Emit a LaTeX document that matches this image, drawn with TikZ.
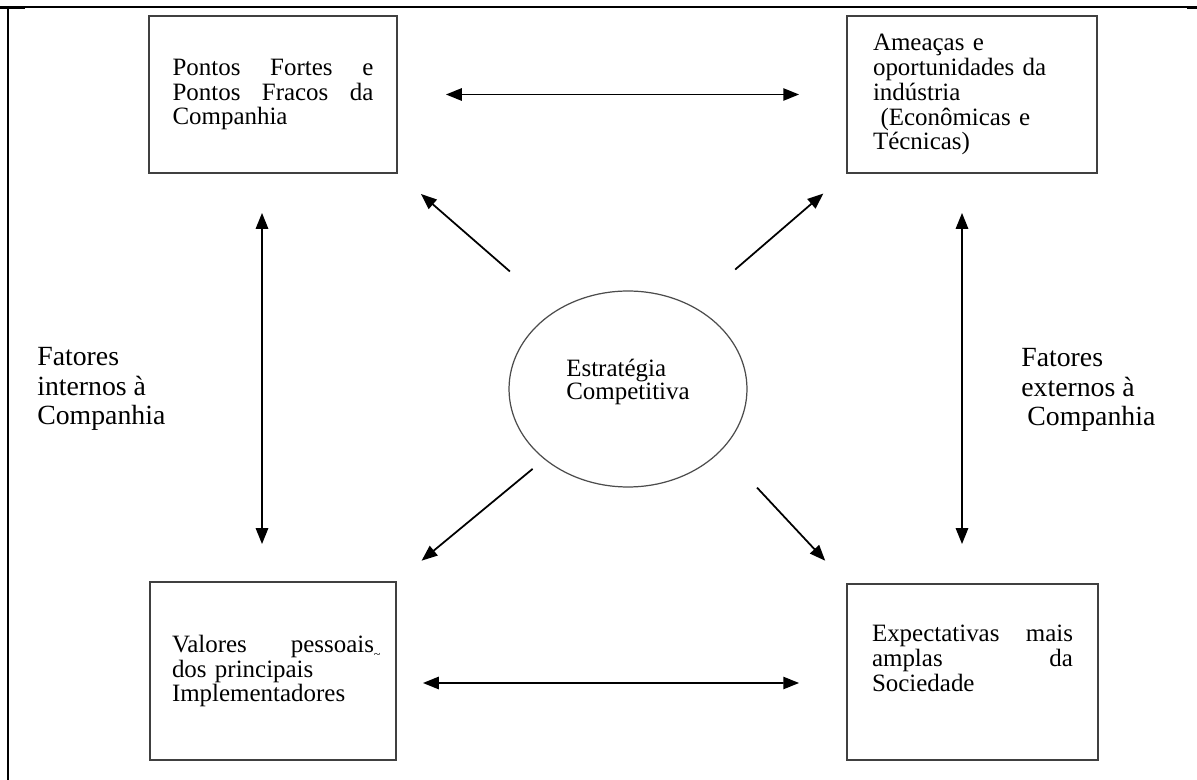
\documentclass[tikz,border=0pt]{standalone}
\usepackage{fontspec}
\setmainfont{Liberation Serif}
\usetikzlibrary{arrows.meta,shapes.geometric}

\begin{document}
\begin{tikzpicture}[x = 0.02cm, y = -0.02cm,
  caixa/.style = {draw = black!75, line width = 1.1pt, inner sep = 0pt, align = left,
    font = {\fontsize{14.2pt}{14.2pt}\selectfont}},
  fator/.style = {anchor = west, align = left, inner sep = 0pt,
    font = {\fontsize{15.8pt}{16.8pt}\selectfont}},
  seta/.style = {line width = 1pt, arrows = {-Triangle[length=9pt, width=7pt]}},
  setadupla/.style = {line width = 1pt,
    arrows = {Triangle[length=9pt, width=7pt]-Triangle[length=9pt, width=7pt]}}]

\useasboundingbox (0,0) rectangle (1197,780);
\draw[line width = 1.2pt] (8,7) -- (1197,7);
\draw[line width = 1.2pt] (8,7) -- (8,780);
\draw[line width = 2.2pt] (0,7.5) -- (25,7.5);
\draw[line width = 2.2pt] (1187,7.5) -- (1197,7.5);

\node[caixa, minimum width = 4.96cm, minimum height = 3.14cm, text width = 4.02cm] (pf) at (273,94.5)
  {Pontos\hfill Fortes\hfill e\\Pontos\hfill Fracos\hfill da\\Companhia};

\node[caixa, minimum width = 5cm, minimum height = 3.14cm, text width = 3.96cm] (am) at (972,94.5)
  {Ameaças e\\oportunidades da\\indústria\\\hspace*{0.3em}(Econômicas e\\Técnicas)};

\node[caixa, minimum width = 4.92cm, minimum height = 3.56cm, text width = 4.04cm] (vp) at (273,671)
  {Valores\hfill pessoais\rlap{\raisebox{-0.12cm}{\fontsize{7pt}{7pt}\selectfont\textasciitilde}}\\dos principais\\Implementadores};

\node[caixa, minimum width = 5.02cm, minimum height = 3.52cm, text width = 4.02cm] (ex) at (972.5,672)
  {Expectativas\hfill mais\\amplas\hfill da\\Sociedade\\[0.06cm]\mbox{}};

\node[ellipse, draw = black!70, line width = 0.7pt, minimum width = 4.76cm, minimum height = 3.92cm,
  inner sep = 0pt, align = left, font = {\fontsize{14.2pt}{13pt}\selectfont}] (est) at (628,389)
  {Estratégia\\Competitiva\\[-0.06cm]\mbox{}};

\node[fator] (fi) at (37,389) {Fatores\\internos à\\Companhia};
\node[fator] (fe) at (1021,390) {Fatores\\externos à\\\hspace*{0.12cm}Companhia};

\draw[setadupla, shorten <= 0.96cm, shorten >= 0.94cm] (pf) -- (am);
\draw[setadupla, shorten <= 0.52cm, shorten >= 0.94cm] ([yshift=-0.24cm]vp.east) -- ([yshift=-0.22cm]ex.west);
\draw[setadupla, shorten <= 0.78cm, shorten >= 0.74cm] ([xshift=-0.22cm]pf.south) -- ([xshift=-0.22cm]vp.north);
\draw[setadupla, shorten <= 0.78cm, shorten >= 0.78cm] ([xshift=-0.2cm]am.south) -- ([xshift=-0.21cm]ex.north);

\draw[seta, shorten <= 1.2cm, shorten >= 0.61cm] (est.133) -- (pf.south east);
\draw[seta, shorten <= 1.12cm, shorten >= 0.6cm] (est.52) -- (am.south west);
\draw[seta, shorten <= 0.3cm, shorten >= 0.64cm] (est.220) -- (vp.north east);
\draw[seta, shorten <= 1.03cm, shorten >= 0.61cm] (est.327) -- (ex.north west);
\end{tikzpicture}
\end{document}
